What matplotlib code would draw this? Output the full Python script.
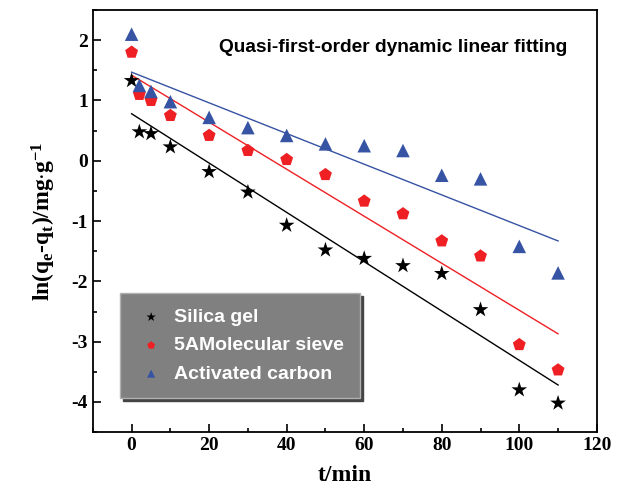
import numpy as np
import matplotlib
matplotlib.use('Agg')
import matplotlib.pyplot as plt
from matplotlib.ticker import MultipleLocator

plt.rcParams['axes.unicode_minus'] = False
plt.rcParams['mathtext.fontset'] = 'custom'
plt.rcParams['mathtext.rm'] = 'Liberation Serif:bold'
plt.rcParams['mathtext.it'] = 'Liberation Serif:bold'
plt.rcParams['mathtext.bf'] = 'Liberation Serif:bold'

# data
t = [0, 2, 5, 10, 20, 30, 40, 50, 60, 70, 80, 90, 100, 110]
silica = [1.33, 0.48, 0.45, 0.23, -0.18, -0.52, -1.07, -1.48, -1.62, -1.74, -1.87, -2.47, -3.8, -4.02]
sieve = [1.8, 1.1, 1.0, 0.75, 0.42, 0.17, 0.02, -0.23, -0.67, -0.88, -1.33, -1.58, -3.05, -3.47]
carbon = [2.1, 1.25, 1.15, 0.98, 0.72, 0.55, 0.42, 0.28, 0.25, 0.17, -0.24, -0.3, -1.42, -1.86]

# linear fits (intercept, slope) as drawn
fit_intercept = [0.78, 1.42, 1.47]
fit_slope = [-0.0409, -0.039, -0.02545]
fit_t = [0, 110]

labels = ['Silica gel', '5AMolecular sieve', 'Activated carbon']
colors = ['black', '#ee2024', '#3653a4']
markers = ['*', 'p', '^']
sizes = [140, 95, 95]

fig = plt.figure(figsize=(6.23, 5.03), dpi=100)
ax = fig.add_axes([0.149, 0.141, 0.809, 0.839])

series = [silica, sieve, carbon]
for i in range(3):
    ax.scatter(t, series[i], marker=markers[i], s=sizes[i], color=colors[i],
               edgecolors='none', label=labels[i], zorder=3)
    ft = np.array(fit_t)
    ax.plot(ft, fit_intercept[i] + fit_slope[i] * ft, color=colors[i], lw=1, zorder=2)

ax.set_xlim(-10, 120)
ax.set_ylim(-4.5, 2.5)
ax.xaxis.set_major_locator(MultipleLocator(20))
ax.xaxis.set_minor_locator(MultipleLocator(10))
ax.yaxis.set_major_locator(MultipleLocator(1))
ax.yaxis.set_minor_locator(MultipleLocator(0.5))
ax.tick_params(which='both', direction='in', width=1.2)
ax.tick_params(which='major', length=6)
ax.tick_params(which='minor', length=3)
for s in ax.spines.values():
    s.set_linewidth(1.3)

serif = ['Liberation Serif', 'DejaVu Serif']
for lab in ax.get_xticklabels() + ax.get_yticklabels():
    lab.set_family(serif)
    lab.set_fontweight('bold')
    lab.set_fontsize(14)

ax.set_xlabel('t/min', family=serif, fontweight='bold', fontsize=17, labelpad=8)
ax.set_ylabel(r'ln(q$_\mathregular{e}$-q$_\mathregular{t}$)/mg$\cdot$g$^\mathregular{-1}$',
              family=serif, fontweight='bold', fontsize=17, labelpad=10)

ax.text(0.942, 0.912, 'Quasi-first-order dynamic linear fitting', transform=ax.transAxes,
        ha='right', va='center', family='Liberation Sans', fontweight='bold', fontsize=13.8)

leg = ax.legend(loc='lower left', bbox_to_anchor=(0.054, 0.08), borderaxespad=0,
                frameon=True, fancybox=False, shadow={'color': '#444444', 'alpha': 1},
                facecolor='#808080', edgecolor='#b0b0b0', framealpha=1,
                prop={'family': 'Liberation Sans', 'weight': 'bold', 'size': 14},
                labelspacing=0.55, handletextpad=0.4, borderpad=0.8, markerscale=0.6,
                handlelength=1.6)
for txt in leg.get_texts():
    txt.set_color('white')

fig.savefig('out.png', dpi=100)
